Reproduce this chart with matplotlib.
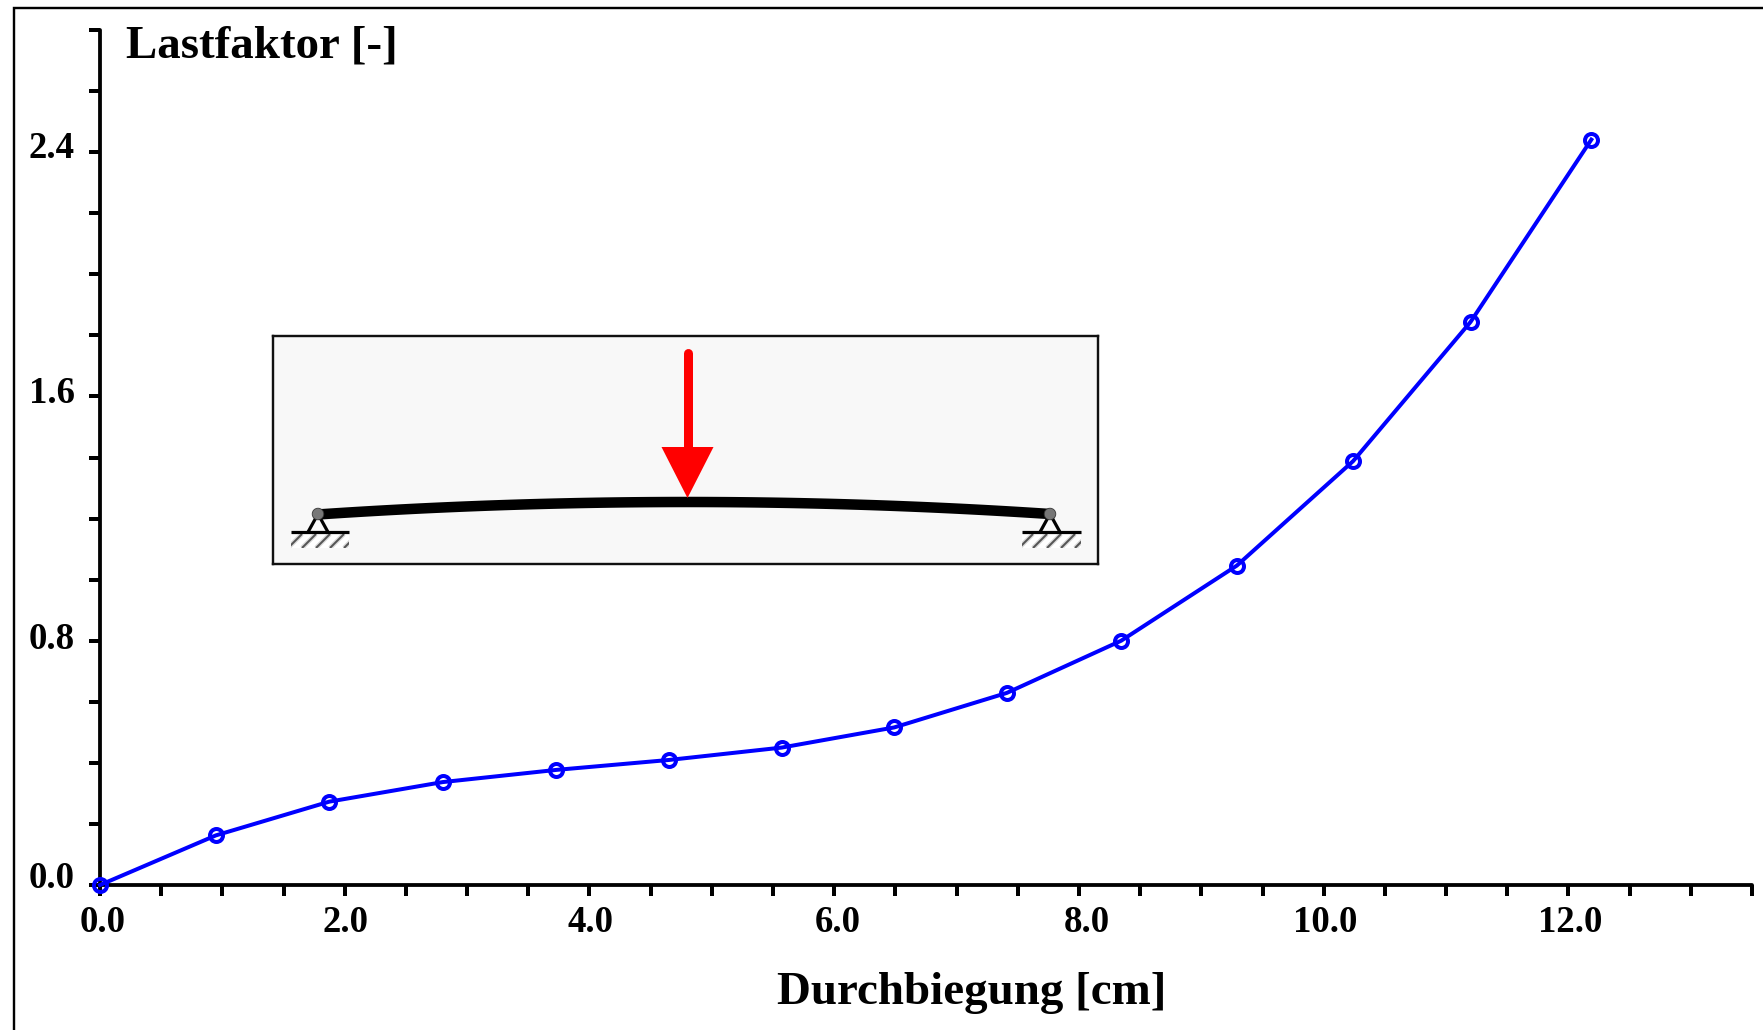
import numpy as np
import matplotlib
matplotlib.use("Agg")
import matplotlib.pyplot as plt
from matplotlib.lines import Line2D
from matplotlib.patches import Polygon, Circle, Rectangle
from matplotlib.transforms import ScaledTranslation

deflection = [0.0, 0.947, 1.874, 2.80, 3.73, 4.65, 5.57, 6.49, 7.41, 8.345, 9.29, 10.24, 11.20, 12.187]
load_factor = [0.0, 0.1625, 0.273, 0.337, 0.377, 0.4095, 0.45, 0.516, 0.629, 0.80, 1.046, 1.388, 1.844, 2.441]
x_major = [0, 2, 4, 6, 8, 10, 12]
x_labels = ["0.0", "2.0", "4.0", "6.0", "8.0", "10.0", "12.0"]
y_major = [0.0, 0.8, 1.6, 2.4]
y_labels = ["0.0", "0.8", "1.6", "2.4"]
xlabel = "Durchbiegung [cm]"
ylabel = "Lastfaktor [-]"

W, H, DPI = 1763, 1030, 100
PX = 72 / DPI
plt.rcParams["font.family"] = ["Liberation Serif", "DejaVu Serif"]
plt.rcParams["font.weight"] = "bold"

fig = plt.figure(figsize=(W / DPI, H / DPI), dpi=DPI, facecolor="white")

def fx(p):
    return p / W

def fy(p):
    return 1 - p / H

# outer frame: top and left only reach the picture
fig.add_artist(Line2D([fx(13.5), fx(13.5), 1], [0, fy(8), fy(8)], color="black", lw=2.4 * PX,
                      solid_joinstyle="miter", solid_capstyle="butt"))

L, R, T, B = 100, 1752, 30, 885
ax = fig.add_axes([fx(L), fy(B), (R - L) / W, (B - T) / H], facecolor="none")
ax.set_xlim(0, 13.5)
ax.set_ylim(0, 2.8)
for s in ("top", "right"):
    ax.spines[s].set_visible(False)
for s in ("left", "bottom"):
    ax.spines[s].set_linewidth(3.8 * PX)
    ax.spines[s].set_capstyle("round")

ax.set_xticks(x_major, x_labels)
ax.set_yticks(y_major, y_labels)
ax.set_xticks(np.arange(0, 13.51, 0.5), minor=True)
ax.set_yticks(np.arange(0, 2.81, 0.2), minor=True)
ax.tick_params(which="both", direction="out", length=11 * PX, width=4 * PX, color="black")
ax.tick_params(axis="x", which="major", labelsize=26.5, pad=9 * PX)
ax.tick_params(axis="y", which="major", labelsize=26.5, pad=14 * PX)

y_shift = [11, 5, 7, 8]
for lab, dy in zip(ax.get_yticklabels(), y_shift):
    lab.set_transform(lab.get_transform() + ScaledTranslation(0, dy / DPI, fig.dpi_scale_trans))
x_shift = [3, 1, 1, 4, 8, 1, 2]
for lab, dx in zip(ax.get_xticklabels(), x_shift):
    lab.set_transform(lab.get_transform() + ScaledTranslation(dx / DPI, 0.5 / DPI, fig.dpi_scale_trans))

ax.plot(deflection, load_factor, color="#0000ff", lw=4 * PX, marker="o", ms=13 * PX,
        mew=4 * PX, mfc="none", mec="#0000ff", clip_on=False, zorder=5)

fig.text(fx(126), fy(46.5), ylabel, fontsize=33.8, fontweight="bold", ha="left", va="center")
fig.text(fx(972), fy(992.5), xlabel, fontsize=33.8, fontweight="bold", ha="center", va="center")

# load-case sketch, in picture pixels
BL, BR, BT, BB = 273, 1098, 336, 564
sk = fig.add_axes([fx(BL), fy(BB), (BR - BL) / W, (BB - BT) / H], facecolor="#f8f8f8", zorder=3)
sk.set_xlim(BL, BR)
sk.set_ylim(BB, BT)
sk.set_xticks([])
sk.set_yticks([])
for s in sk.spines.values():
    s.set_linewidth(2.4 * PX)
    s.set_color("#111111")

xa, xb, xm = 318.0, 1050.0, 687.5
bx = np.linspace(xa, xb, 80)
by = 514 - 12 * (1 - ((bx - xm) / (xb - xm)) ** 2)
sk.plot(bx, by, color="black", lw=10.5 * PX, solid_capstyle="butt", zorder=2)

sk.plot([xm, xm], [353, 450], color="#ff0000", lw=9 * PX, solid_capstyle="round", zorder=4)
sk.add_patch(Polygon([[xm - 26, 447], [xm + 26, 447], [xm, 498]], closed=True, fc="#ff0000", ec="none", zorder=4))

for px, g0, g1 in [(xa, 291, 349), (xb, 1022, 1081)]:
    sk.plot([px - 10.5, px, px + 10.5], [533, 514, 533], color="black", lw=3.2 * PX,
            solid_joinstyle="miter", solid_capstyle="butt", zorder=3)
    sk.plot([g0, g1], [532, 532], color="black", lw=3.2 * PX, solid_capstyle="butt", zorder=3)
    box = Rectangle((g0, 534), g1 - g0, 14, fc="white", ec="none", zorder=1.5)
    sk.add_patch(box)
    for hx in np.arange(g0 - 3, g1, 14.0):
        for color, width in [("#d8d8d8", 4.5), ("#555555", 2.0)]:
            ln, = sk.plot([hx, hx + 14], [548, 534], color=color, lw=width * PX, solid_capstyle="butt", zorder=2)
            ln.set_clip_path(box)
    sk.add_patch(Circle((px, 514), 5.8, fc="#777777", ec="#333333", lw=0.8 * PX, zorder=5))

fig.savefig("out.png", dpi=DPI, facecolor="white")
